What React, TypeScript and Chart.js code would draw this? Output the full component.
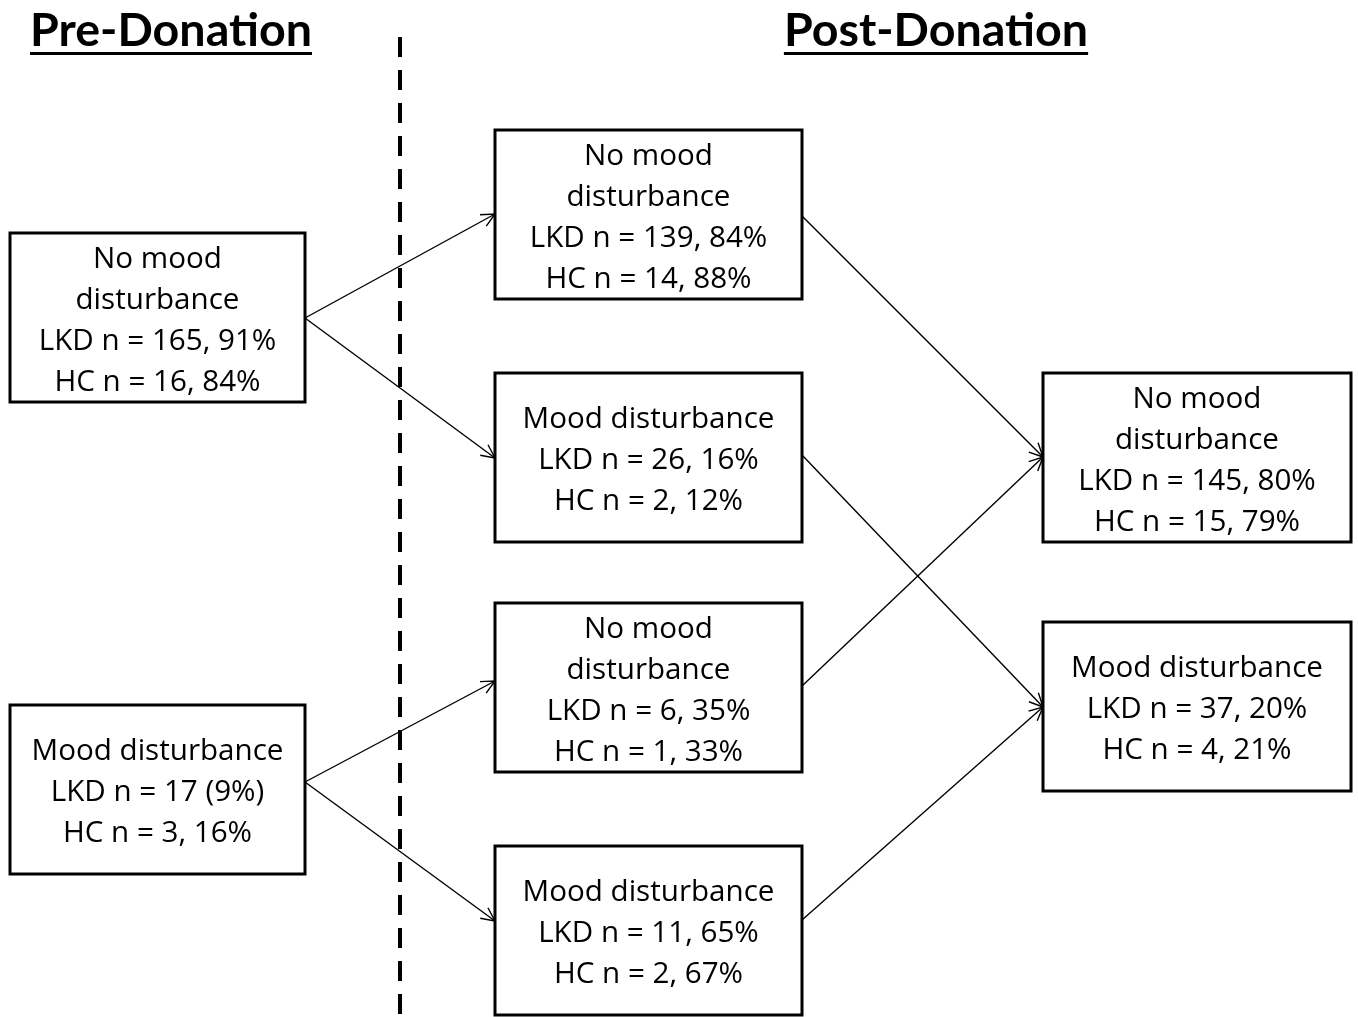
import React, { useEffect, useRef } from "react";
import { Chart, registerables } from "chart.js";

Chart.register(...registerables);

// ---- content ----
const stageTitles = ["Pre-Donation", "Post-Donation"];

const boxLabels: string[][] = [
  ["No mood", "disturbance", "LKD n = 165, 91%", "HC n = 16, 84%"],
  ["Mood disturbance", "LKD n = 17 (9%)", "HC n = 3, 16%"],
  ["No mood", "disturbance", "LKD n = 139, 84%", "HC n = 14, 88%"],
  ["Mood disturbance", "LKD n = 26, 16%", "HC n = 2, 12%"],
  ["No mood", "disturbance", "LKD n = 6, 35%", "HC n = 1, 33%"],
  ["Mood disturbance", "LKD n = 11, 65%", "HC n = 2, 67%"],
  ["No mood", "disturbance", "LKD n = 145, 80%", "HC n = 15, 79%"],
  ["Mood disturbance", "LKD n = 37, 20%", "HC n = 4, 21%"],
];

// flows: [from box index, to box index]
const flows: [number, number][] = [
  [0, 2], [0, 3], [1, 4], [1, 5],
  [2, 6], [3, 7], [4, 6], [5, 7],
];

// ---- layout (data units = pixels of a 1358 x 1017 plane) ----
const boxRects: [number, number, number, number][] = [
  [10, 233, 305, 402],
  [10, 705, 305, 874],
  [495, 130, 802, 299],
  [495, 373, 802, 542],
  [495, 603, 802, 772],
  [495, 846, 802, 1015],
  [1043, 373, 1351, 542],
  [1043, 622, 1351, 791],
];
// exit / entry y for each flow
const flowStartY = [318, 318, 782, 782, 216, 455, 686, 920];
const flowEndY = [214, 458, 681, 921, 457, 707, 457, 707];
const titleCenters: [number, number][] = [[171, 46], [936, 46]];
const dividerX = 400;
const dividerY: [number, number] = [37, 1017];

const W = 1358;
const H = 1017;
const BODY_FONT = "'Open Sans', 'Noto Sans', sans-serif";
const TITLE_FONT = "Lato, 'Open Sans', sans-serif";
const BODY_REF_TEXT = "Mood disturbance";
const BODY_REF_WIDTH = 252;
const TITLE_REF_WIDTH = 282;

export default function App() {
  const ref = useRef<HTMLCanvasElement | null>(null);

  useEffect(() => {
    document.body.style.margin = "0";
    const canvas = ref.current;
    if (!canvas) return;

    const datasets: any[] = [];
    datasets.push({
      data: [
        { x: dividerX, y: dividerY[0] },
        { x: dividerX, y: dividerY[1] },
      ],
      showLine: true,
      borderColor: "#000",
      borderWidth: 4,
      borderDash: [20, 13],
      pointRadius: 0,
      borderCapStyle: "butt",
    });
    flows.forEach(([a, b], i) => {
      const ra = boxRects[a];
      const rb = boxRects[b];
      datasets.push({
        data: [
          { x: ra[2], y: flowStartY[i] },
          { x: rb[0], y: flowEndY[i] },
        ],
        showLine: true,
        borderColor: "#000",
        borderWidth: 1.4,
        pointRadius: 0,
      });
    });

    const diagramPlugin = {
      id: "diagram",
      afterDatasetsDraw(chart: any) {
        const ctx = chart.ctx as CanvasRenderingContext2D;
        const xs = chart.scales.x;
        const ys = chart.scales.y;
        const px = (v: number) => xs.getPixelForValue(v);
        const py = (v: number) => ys.getPixelForValue(v);
        ctx.save();

        // fit font sizes
        ctx.font = `100px ${BODY_FONT}`;
        const bodySize = (100 * BODY_REF_WIDTH) / ctx.measureText(BODY_REF_TEXT).width;
        ctx.font = `bold 100px ${TITLE_FONT}`;
        const titleSize = (100 * TITLE_REF_WIDTH) / ctx.measureText(stageTitles[0]).width;

        // arrow heads
        flows.forEach(([a, b], i) => {
          const x0 = px(boxRects[a][2]);
          const y0 = py(flowStartY[i]);
          const x1 = px(boxRects[b][0]);
          const y1 = py(flowEndY[i]);
          const ang = Math.atan2(y1 - y0, x1 - x0);
          const L = 15;
          const spread = 0.45;
          ctx.beginPath();
          ctx.moveTo(x1 - L * Math.cos(ang - spread), y1 - L * Math.sin(ang - spread));
          ctx.lineTo(x1, y1);
          ctx.lineTo(x1 - L * Math.cos(ang + spread), y1 - L * Math.sin(ang + spread));
          ctx.strokeStyle = "#000";
          ctx.lineWidth = 1.4;
          ctx.stroke();
        });

        // boxes
        boxRects.forEach((r, i) => {
          const x0 = px(r[0]);
          const y0 = py(r[1]);
          const x1 = px(r[2]);
          const y1 = py(r[3]);
          ctx.fillStyle = "#fff";
          ctx.fillRect(x0, y0, x1 - x0, y1 - y0);
          ctx.strokeStyle = "#000";
          ctx.lineWidth = 3;
          ctx.strokeRect(x0, y0, x1 - x0, y1 - y0);

          const lines = boxLabels[i];
          const cx = (x0 + x1) / 2;
          const cy = (y0 + y1) / 2;
          const lh = 41;
          ctx.fillStyle = "#000";
          ctx.font = `${bodySize.toFixed(1)}px ${BODY_FONT}`;
          ctx.textAlign = "center";
          ctx.textBaseline = "middle";
          lines.forEach((t, k) => {
            const yy = cy + (k - (lines.length - 1) / 2) * lh + 3.5;
            ctx.fillText(t, cx, yy);
          });
        });

        // stage titles
        stageTitles.forEach((t, i) => {
          const cx = px(titleCenters[i][0]);
          const by = py(titleCenters[i][1]);
          ctx.font = `bold ${titleSize.toFixed(1)}px ${TITLE_FONT}`;
          ctx.textAlign = "center";
          ctx.textBaseline = "alphabetic";
          ctx.fillStyle = "#000";
          ctx.fillText(t, cx, by);
          const w = ctx.measureText(t).width;
          ctx.fillRect(cx - w / 2, by + 6, w, 3);
        });
        ctx.restore();
      },
    };

    const chart = new Chart(canvas, {
      type: "scatter",
      data: { datasets },
      options: {
        animation: false,
        responsive: false,
        maintainAspectRatio: false,
        layout: { padding: 0 },
        plugins: {
          legend: { display: false },
          tooltip: { enabled: false },
          title: { display: false },
        },
        scales: {
          x: { type: "linear", min: 0, max: W, display: false },
          y: { type: "linear", min: 0, max: H, reverse: true, display: false },
        },
      },
      plugins: [diagramPlugin],
    });

    return () => chart.destroy();
  }, []);

  return (
    <div style={{ width: W, height: H, background: "#fff" }}>
      <canvas ref={ref} width={W} height={H} style={{ display: "block" }} />
    </div>
  );
}
